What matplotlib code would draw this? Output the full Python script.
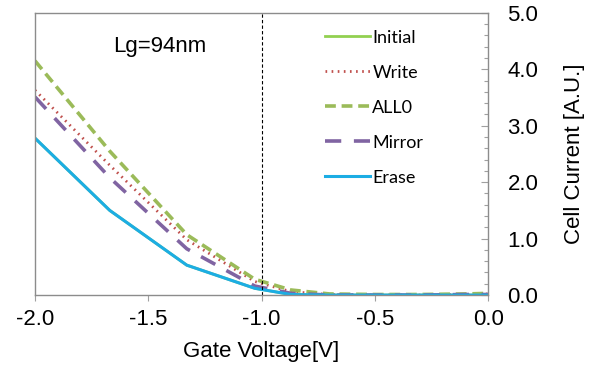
import numpy as np
import matplotlib
matplotlib.use("Agg")
from matplotlib import pyplot as plt
from matplotlib.ticker import MultipleLocator, FormatStrFormatter

plt.rcParams['font.family'] = ['Liberation Sans', 'DejaVu Sans']

# gate voltage sample points
vg = [-2.0, -1.67, -1.33, -1.03, -0.87, -0.7, -0.5, -0.3, -0.1, 0.0]

# Initial sits under Erase in the original (not visible on its own)
initial = [2.78, 1.50, 0.53, 0.12, 0.01, 0.00, 0.00, 0.00, 0.00, 0.00]
write   = [3.63, 2.30, 0.98, 0.24, 0.06, 0.01, 0.00, 0.00, 0.01, 0.02]
all0    = [4.15, 2.55, 1.07, 0.28, 0.09, 0.02, 0.01, 0.01, 0.02, 0.03]
mirror  = [3.51, 2.08, 0.82, 0.16, 0.03, 0.00, 0.00, 0.00, 0.01, 0.01]
erase   = [2.78, 1.50, 0.53, 0.12, 0.01, 0.00, 0.00, 0.00, 0.00, 0.00]

fig = plt.figure(figsize=(5.9, 3.67), dpi=100)
ax = fig.add_axes([0.0593, 0.196, 0.768, 0.769])

ax.plot(vg, initial, color='#92D050', lw=2, label='Initial')
ax.plot(vg, write, color='#C0504D', lw=2, ls=(0, (0.6, 1.6)), label='Write')
ax.plot(vg, all0, color='#9BBB59', lw=2.6, ls=(0, (3.0, 1.6)), label='ALL0')
ax.plot(vg, mirror, color='#8064A2', lw=2.6, ls=(0, (4.5, 3.5)), label='Mirror')
ax.plot(vg, erase, color='#1CADE4', lw=2.2, label='Erase')

ax.axvline(-1.0, color='black', lw=0.8, ls=(0, (3, 2)))

ax.set_xlim(-2.0, 0.0)
ax.set_ylim(0, 5.0)

ax.yaxis.tick_right()
ax.yaxis.set_label_position('right')
ax.yaxis.set_major_locator(MultipleLocator(1.0))
ax.yaxis.set_minor_locator(MultipleLocator(0.2))
ax.yaxis.set_major_formatter(FormatStrFormatter('%.1f'))
ax.xaxis.set_major_locator(MultipleLocator(0.5))
ax.xaxis.set_major_formatter(FormatStrFormatter('%.1f'))

ax.tick_params(axis='y', which='major', direction='in', length=5, width=0.8,
               color='#A0A0A0', labelsize=16, pad=14)
ax.tick_params(axis='y', which='minor', direction='in', length=3, width=0.8,
               color='#A0A0A0')
ax.tick_params(axis='x', direction='out', length=4, width=0.8,
               color='#A0A0A0', labelsize=16, pad=6)

for s in ax.spines.values():
    s.set_color('#8C8C8C')
    s.set_linewidth(1.0)

ax.set_xlabel('Gate Voltage[V]', fontsize=16, labelpad=8)
ax.set_ylabel('Cell Current [A.U.]', fontsize=16, labelpad=18)

ax.text(-1.45, 4.4, 'Lg=94nm', fontsize=16, ha='center', va='center')

leg = ax.legend(loc='upper right', bbox_to_anchor=(0.885, 0.985), frameon=False,
                prop={'family': 'Lato', 'size': 13}, handlelength=2.5,
                handletextpad=0.15, labelspacing=1.05, borderaxespad=0.3)

fig.savefig('out.png', dpi=100)
